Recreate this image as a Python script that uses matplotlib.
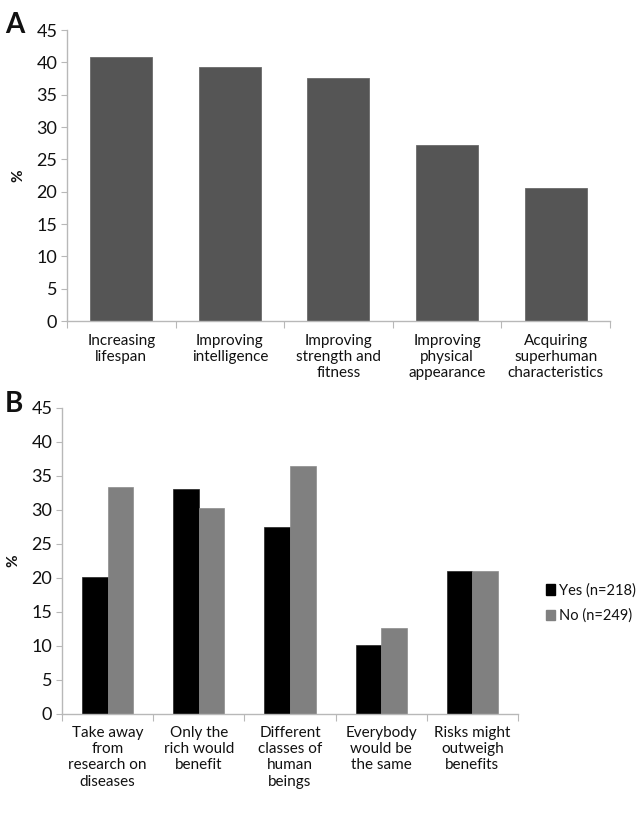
import matplotlib
matplotlib.use('Agg')
import matplotlib.pyplot as plt
from matplotlib.patches import Patch
import numpy as np

plt.rcParams['font.family'] = ['Lato', 'DejaVu Sans']

# Panel A
cats_a = ['Increasing\nlifespan', 'Improving\nintelligence', 'Improving\nstrength and\nfitness',
          'Improving\nphysical\nappearance', 'Acquiring\nsuperhuman\ncharacteristics']
vals_a = [40.8, 39.3, 37.6, 27.2, 20.5]

# Panel B
cats_b = ['Take away\nfrom\nresearch on\ndiseases', 'Only the\nrich would\nbenefit',
          'Different\nclasses of\nhuman\nbeings', 'Everybody\nwould be\nthe same',
          'Risks might\noutweigh\nbenefits']
yes_b = [20.1, 33.0, 27.4, 10.1, 21.0]
no_b = [33.4, 30.2, 36.4, 12.6, 21.0]
series_b = ['Yes (n=218)', 'No (n=249)']

axis_col = '#b8b8b8'
text_col = '#111111'

fig = plt.figure(figsize=(6.44, 8.16), dpi=100)


def estilo(ax, cats):
    '''deja los ejes como en el original: sin marco arriba/derecha, ticks en los limites'''
    for s in ['top', 'right']:
        ax.spines[s].set_visible(False)
    for s in ['left', 'bottom']:
        ax.spines[s].set_color(axis_col)
        ax.spines[s].set_linewidth(1.0)
    n = len(cats)
    ax.set_xlim(-0.5, n - 0.5)
    ax.set_ylim(0, 45)
    ax.set_yticks(np.arange(0, 46, 5))
    ax.set_xticks(np.arange(-0.5, n, 1.0))
    ax.set_xticklabels([])
    ax.set_xticks(np.arange(n), minor=True)
    ax.set_xticklabels(cats, minor=True, fontsize=11, color=text_col, linespacing=1.2, va='top')
    ax.tick_params(axis='x', which='major', length=5, color=axis_col, direction='out')
    ax.tick_params(axis='x', which='minor', length=0, pad=9)
    ax.tick_params(axis='y', length=4, color=axis_col, labelsize=13, labelcolor=text_col, pad=3)
    ax.set_ylabel('%', fontsize=11, fontweight='bold', color=text_col, labelpad=8)


ax1 = fig.add_axes([0.104, 0.6066, 0.843, 0.3566])
x = np.arange(len(cats_a))
ax1.bar(x, vals_a, width=0.57, color='#555555', edgecolor='#6a6a6a', linewidth=0.6)
estilo(ax1, cats_a)

ax2 = fig.add_axes([0.0963, 0.1256, 0.708, 0.3744])
x = np.arange(len(cats_b))
w = 0.28
ax2.bar(x - w / 2, yes_b, width=w, color='#000000', edgecolor='#222222', linewidth=0.5)
ax2.bar(x + w / 2, no_b, width=w, color='#808080', edgecolor='#8c8c8c', linewidth=0.5)
estilo(ax2, cats_b)

handles = [Patch(color='#000000'), Patch(color='#808080')]
fig.legend(handles, series_b, loc='center left', bbox_to_anchor=(0.828, 0.261),
           frameon=False, fontsize=10.5, handlelength=0.6, handleheight=0.7,
           handletextpad=0.3, labelspacing=0.75, labelcolor=text_col)

fig.text(0.008, 0.960, 'A', fontsize=20, fontweight='bold', color='#111111')
fig.text(0.008, 0.495, 'B', fontsize=20, fontweight='bold', color='#111111')

fig.savefig('out.png', dpi=100)
